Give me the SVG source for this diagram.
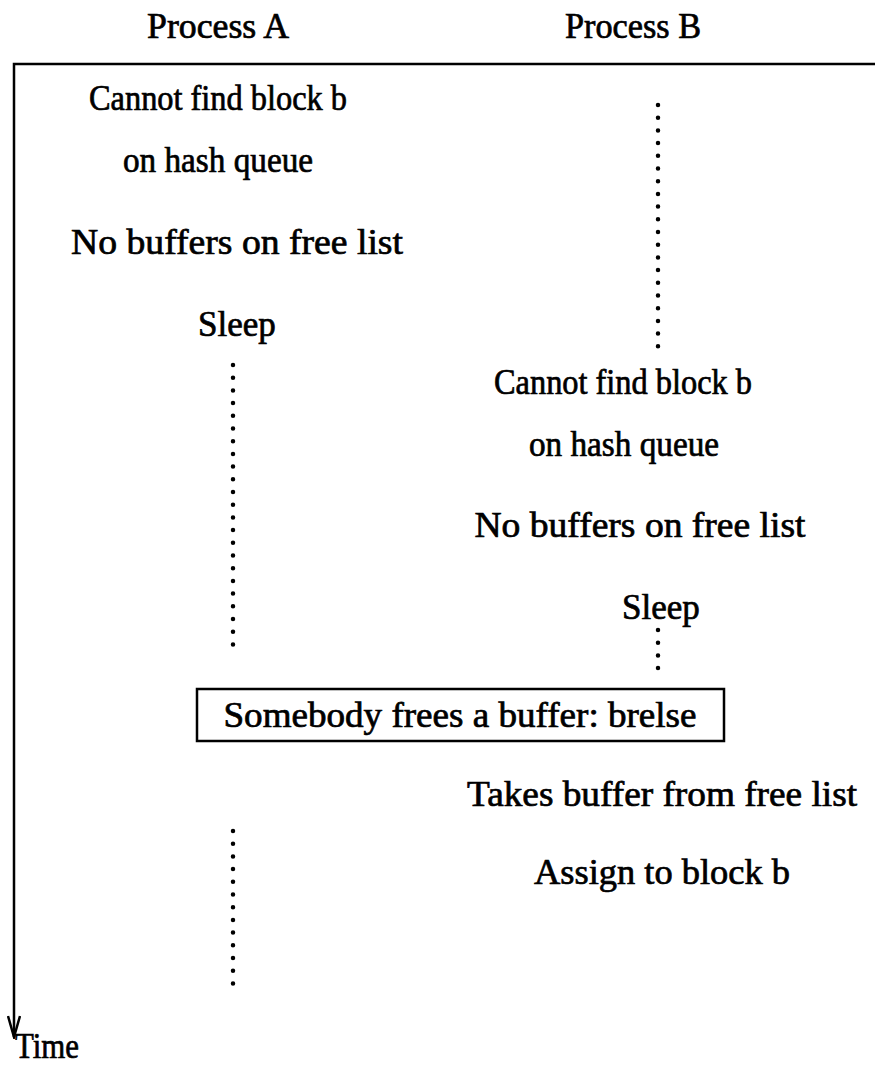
<svg xmlns="http://www.w3.org/2000/svg" width="875" height="1067" viewBox="0 0 875 1067">
<defs>
<style>
text{font-family:"Liberation Serif","Times New Roman",serif;font-size:35px;fill:#000;stroke:#000;stroke-width:0.7;text-anchor:middle}
.axis{stroke:#000;stroke-width:2.5;fill:none}
.dots{stroke:#000;stroke-width:4.5;stroke-linecap:round;stroke-dasharray:0 12.7;fill:none}
.box{fill:#fff;stroke:#000;stroke-width:2.5}
</style>
<marker id="vhead" viewBox="0 0 24 14" refX="22" refY="7" markerWidth="24" markerHeight="14" markerUnits="userSpaceOnUse" orient="auto">
<path d="M1,1 L22,7 L1,13" fill="none" stroke="#000" stroke-width="2.5"/>
</marker>
</defs>
<rect width="875" height="1067" fill="#fff"/>
<g id="connectors">
<path class="axis" d="M875,64 L14,64 L14,1037" marker-end="url(#vhead)"/>
<line class="dots" x1="658" y1="105" x2="658" y2="348"/>
<line class="dots" x1="233" y1="365" x2="233" y2="652"/>
<line class="dots" x1="658" y1="630" x2="658" y2="672"/>
<line class="dots" x1="233" y1="831" x2="233" y2="987"/>
</g>
<g id="header-a"><text x="218" y="38" textLength="142" lengthAdjust="spacingAndGlyphs">Process A</text></g>
<g id="header-b"><text x="633" y="38" textLength="136" lengthAdjust="spacingAndGlyphs">Process B</text></g>
<g id="a-cannot-find"><text x="218" y="110" textLength="258" lengthAdjust="spacingAndGlyphs">Cannot find block b</text><text x="218" y="172" textLength="190" lengthAdjust="spacingAndGlyphs">on hash queue</text></g>
<g id="a-no-buffers"><text x="237" y="254" textLength="332" lengthAdjust="spacingAndGlyphs">No buffers on free list</text></g>
<g id="a-sleep"><text x="237" y="336">Sleep</text></g>
<g id="b-cannot-find"><text x="623" y="394" textLength="258" lengthAdjust="spacingAndGlyphs">Cannot find block b</text><text x="624" y="456" textLength="190" lengthAdjust="spacingAndGlyphs">on hash queue</text></g>
<g id="b-no-buffers"><text x="640" y="537" textLength="331" lengthAdjust="spacingAndGlyphs">No buffers on free list</text></g>
<g id="b-sleep"><text x="661" y="619">Sleep</text></g>
<g id="brelse"><rect class="box" x="197" y="689" width="527" height="52"/><text x="460" y="727" textLength="473" lengthAdjust="spacingAndGlyphs">Somebody frees a buffer: brelse</text></g>
<g id="b-takes"><text x="662" y="806" textLength="390" lengthAdjust="spacingAndGlyphs">Takes buffer from free list</text></g>
<g id="b-assign"><text x="662" y="884" textLength="256" lengthAdjust="spacingAndGlyphs">Assign to block b</text></g>
<g id="time-label"><text x="47" y="1058" textLength="64" lengthAdjust="spacingAndGlyphs">Time</text></g>
</svg>
